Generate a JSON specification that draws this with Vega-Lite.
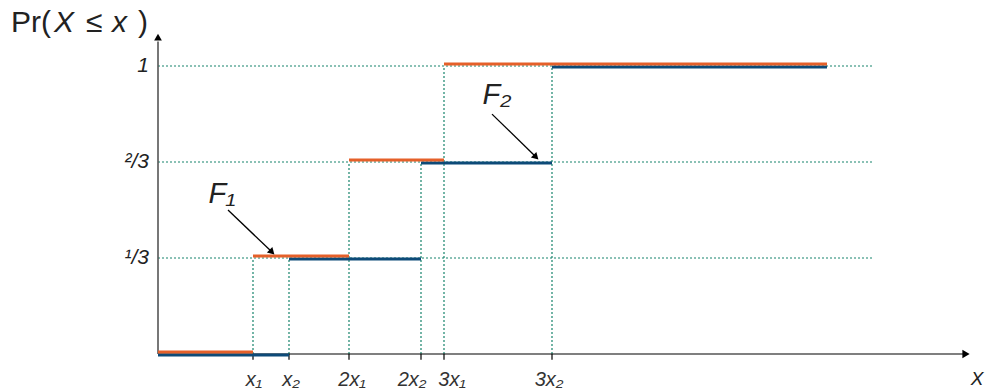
{
  "$schema": "https://vega.github.io/schema/vega-lite/v6.json",
  "width": 985,
  "height": 392,
  "padding": 0,
  "autosize": {"type": "none"},
  "background": "white",
  "config": {"view": {"stroke": null}},
  "datasets": {
    "grid": [{"x": 0, "x2": 715, "y": 0.3333}, {"x": 0, "x2": 715, "y": 0.6667}, {"x": 0, "x2": 715, "y": 1}],
    "vlines": [
      {"x": 95, "y": 0, "y2": 0.3333}, {"x": 131, "y": 0, "y2": 0.3333},
      {"x": 191, "y": 0, "y2": 0.6667}, {"x": 263, "y": 0, "y2": 0.6667},
      {"x": 286, "y": 0, "y2": 1}, {"x": 394, "y": 0, "y2": 1}
    ],
    "ticks": [
      {"x": 95, "lx": 96, "label": "x₁"}, {"x": 131, "lx": 133, "label": "x₂"},
      {"x": 191, "lx": 194, "label": "2x₁"}, {"x": 263, "lx": 254, "label": "2x₂"},
      {"x": 286, "lx": 294, "label": "3x₁"}, {"x": 394, "lx": 391, "label": "3x₂"}
    ],
    "F1": [{"x": 0, "x2": 95, "y": 0}, {"x": 95, "x2": 191, "y": 0.3333}, {"x": 191, "x2": 286, "y": 0.6667}, {"x": 286, "x2": 669, "y": 1}],
    "F2": [{"x": 0, "x2": 131, "y": 0}, {"x": 131, "x2": 263, "y": 0.3333}, {"x": 263, "x2": 394, "y": 0.6667}, {"x": 394, "x2": 669, "y": 1}],
    "yaxis": [{"x": 0, "y": 0, "y2": 1.085}],
    "xaxis": [{"x": 0, "x2": 805, "y": 0}],
    "yarrow": [{"x": 0, "y": 1.1}],
    "xarrow": [{"x": 808, "y": 0}],
    "ylabels": [{"y": 1, "label": "1"}, {"y": 0.6667, "label": "²/3"}, {"y": 0.3333, "label": "¹/3"}],
    "arrows": [{"x": 70, "y": 0.5, "x2": 114, "y2": 0.354}, {"x": 334, "y": 0.833, "x2": 378, "y2": 0.684}],
    "heads": [{"x": 114, "y": 0.354}, {"x": 378, "y": 0.684}],
    "flabels": [{"x": 64, "y": 0.556, "label": "F₁"}, {"x": 339, "y": 0.9, "label": "F₂"}],
    "titleN": [{"x": -147, "label": "Pr("}, {"x": -72, "label": "≤"}, {"x": -20, "label": ")"}],
    "titleI": [{"x": -104, "label": "X"}, {"x": -46, "label": "x"}]
  },
  "encoding": {},
  "layer": [
    {
      "data": {"name": "grid"},
      "mark": {"type": "rule", "color": "#17846c", "strokeDash": [2, 2], "strokeWidth": 1.2},
      "encoding": {
        "x": {"field": "x", "type": "quantitative", "axis": null, "scale": {"domain": [-158, 827], "nice": false, "zero": false}},
        "x2": {"field": "x2"},
        "y": {"field": "y", "type": "quantitative", "axis": null, "scale": {"domain": [-0.13194, 1.22917], "nice": false, "zero": false}}
      }
    },
    {
      "data": {"name": "vlines"},
      "mark": {"type": "rule", "color": "#17846c", "strokeDash": [2, 2], "strokeWidth": 1.2},
      "encoding": {
        "x": {"field": "x", "type": "quantitative"},
        "y": {"field": "y", "type": "quantitative"},
        "y2": {"field": "y2"}
      }
    },
    {
      "data": {"name": "ticks"},
      "mark": {"type": "rule", "color": "#333333", "strokeWidth": 1.5},
      "encoding": {
        "x": {"field": "x", "type": "quantitative"},
        "y": {"datum": 0, "type": "quantitative"},
        "y2": {"datum": -0.02}
      }
    },
    {
      "data": {"name": "ticks"},
      "mark": {"type": "text", "font": "Liberation Sans", "fontStyle": "italic", "fontSize": 20, "color": "#333333", "baseline": "middle", "align": "center"},
      "encoding": {
        "x": {"field": "lx", "type": "quantitative"},
        "y": {"datum": -0.0903, "type": "quantitative"},
        "text": {"field": "label"}
      }
    },
    {
      "data": {"name": "xaxis"},
      "mark": {"type": "rule", "color": "#000000", "strokeWidth": 1.2},
      "encoding": {
        "x": {"field": "x", "type": "quantitative"},
        "x2": {"field": "x2"},
        "y": {"field": "y", "type": "quantitative"}
      }
    },
    {
      "data": {"name": "xarrow"},
      "mark": {"type": "point", "shape": "triangle-right", "filled": true, "color": "#000000", "size": 70, "opacity": 1},
      "encoding": {
        "x": {"field": "x", "type": "quantitative"},
        "y": {"field": "y", "type": "quantitative"}
      }
    },
    {
      "data": {"name": "yaxis"},
      "mark": {"type": "rule", "color": "#555555", "strokeWidth": 1.6},
      "encoding": {
        "x": {"field": "x", "type": "quantitative"},
        "y": {"field": "y", "type": "quantitative"},
        "y2": {"field": "y2"}
      }
    },
    {
      "data": {"name": "yarrow"},
      "mark": {"type": "point", "shape": "triangle-up", "filled": true, "color": "#000000", "size": 60, "opacity": 1},
      "encoding": {
        "x": {"field": "x", "type": "quantitative"},
        "y": {"field": "y", "type": "quantitative"}
      }
    },
    {
      "data": {"name": "F2"},
      "mark": {"type": "rule", "color": "#0d4a78", "strokeWidth": 3, "yOffset": 1},
      "encoding": {
        "x": {"field": "x", "type": "quantitative"},
        "x2": {"field": "x2"},
        "y": {"field": "y", "type": "quantitative"}
      }
    },
    {
      "data": {"name": "F1"},
      "mark": {"type": "rule", "color": "#e5602a", "strokeWidth": 3, "yOffset": -2},
      "encoding": {
        "x": {"field": "x", "type": "quantitative"},
        "x2": {"field": "x2"},
        "y": {"field": "y", "type": "quantitative"}
      }
    },
    {
      "data": {"name": "ylabels"},
      "mark": {"type": "text", "font": "Liberation Sans", "fontStyle": "italic", "fontSize": 21, "color": "#222222", "baseline": "middle", "align": "right"},
      "encoding": {
        "x": {"datum": -9, "type": "quantitative"},
        "y": {"field": "y", "type": "quantitative"},
        "text": {"field": "label"}
      }
    },
    {
      "data": {"name": "arrows"},
      "mark": {"type": "rule", "color": "#000000", "strokeWidth": 1.3},
      "encoding": {
        "x": {"field": "x", "type": "quantitative"},
        "x2": {"field": "x2"},
        "y": {"field": "y", "type": "quantitative"},
        "y2": {"field": "y2"}
      }
    },
    {
      "data": {"name": "heads"},
      "mark": {"type": "point", "shape": "triangle-right", "filled": true, "color": "#000000", "size": 60, "opacity": 1, "angle": 45},
      "encoding": {
        "x": {"field": "x", "type": "quantitative"},
        "y": {"field": "y", "type": "quantitative"}
      }
    },
    {
      "data": {"name": "flabels"},
      "mark": {"type": "text", "font": "Liberation Sans", "fontStyle": "italic", "fontSize": 29, "color": "#222222", "baseline": "middle", "align": "center"},
      "encoding": {
        "x": {"field": "x", "type": "quantitative"},
        "y": {"field": "y", "type": "quantitative"},
        "text": {"field": "label"}
      }
    },
    {
      "data": {"name": "titleN"},
      "mark": {"type": "text", "font": "Liberation Sans", "fontSize": 30, "color": "#222222", "baseline": "alphabetic", "align": "left"},
      "encoding": {
        "x": {"field": "x", "type": "quantitative"},
        "y": {"datum": 1.118, "type": "quantitative"},
        "text": {"field": "label"}
      }
    },
    {
      "data": {"name": "titleI"},
      "mark": {"type": "text", "font": "Liberation Sans", "fontStyle": "italic", "fontSize": 30, "color": "#222222", "baseline": "alphabetic", "align": "left"},
      "encoding": {
        "x": {"field": "x", "type": "quantitative"},
        "y": {"datum": 1.118, "type": "quantitative"},
        "text": {"field": "label"}
      }
    },
    {
      "data": {"values": [{"x": 819, "y": -0.088, "label": "X"}]},
      "mark": {"type": "text", "font": "Liberation Sans", "fontStyle": "italic", "fontSize": 19, "color": "#222222", "baseline": "middle", "align": "center"},
      "encoding": {
        "x": {"field": "x", "type": "quantitative"},
        "y": {"field": "y", "type": "quantitative"},
        "text": {"field": "label"}
      }
    }
  ]
}
